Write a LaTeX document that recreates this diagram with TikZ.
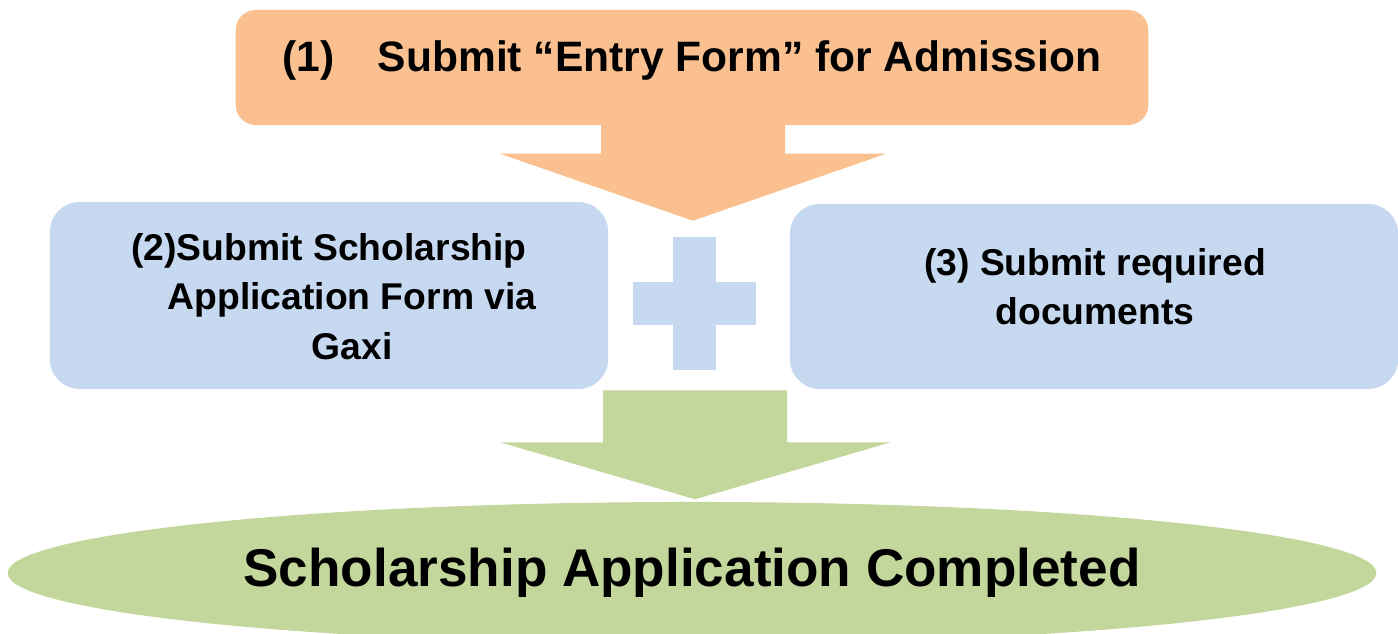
\documentclass[tikz,border=0pt]{standalone}
\usepackage{fontspec}
\setmainfont{Liberation Sans}
\usepackage{xcolor}
\definecolor{step-orange}{RGB}{250,192,144}
\definecolor{step-blue}{RGB}{198,217,241}
\definecolor{step-green}{RGB}{195,214,155}
\usetikzlibrary{shapes.geometric,calc}

\begin{document}
\begin{tikzpicture}[
	x=0.01cm, y=-0.01cm,
	box/.style={rectangle,inner sep=0pt,rounded corners=0.3cm},
	boxtext/.style={align=center,font=\bfseries\fontsize{10.6pt}{14.1pt}\selectfont},
	]
	\useasboundingbox (0,0) rectangle (1398,634);

	% boxes
	\node[box,fill=step-orange,rounded corners=0.2cm,
		minimum width=9.12cm,minimum height=1.15cm] (entry) at (692,67.5) {};
	\node[box,fill=step-blue,minimum width=5.58cm,minimum height=1.87cm] (form) at (329,295.5) {};
	\node[box,fill=step-blue,minimum width=6.08cm,minimum height=1.85cm] (docs) at (1094,296.5) {};
	\node[ellipse,fill=step-green,inner sep=0pt,
		minimum width=13.68cm,minimum height=1.42cm,
		font=\bfseries\fontsize{15.1pt}{18pt}\selectfont] (done) at (692,573)
		{Scholarship Application Completed};

	\node[font=\bfseries\fontsize{12.1pt}{14pt}\selectfont,anchor=base] (entrytext) at (692,72)
		{(1)\hspace{0.43cm}Submit “Entry Form” for Admission};
	\node[boxtext] (formtext) at (352,296.5)
		{(2)Submit Scholarship\hspace*{0.46cm}\\Application Form via\\Gaxi};
	\node[boxtext] (docstext) at (1095,286.5) {(3) Submit required\\documents};

	% block arrows
	\coordinate (tip1) at ($(entry.south)+(1,95)$);
	\coordinate (tip2) at ($(done.north)+(3,-2)$);
	\fill[step-orange] ($(entry.south)+(-91,-1)$) -- ($(entry.south)+(-91,28)$)
		-- ($(entry.south)+(-192,28)$) -- (tip1) -- ($(entry.south)+(194,28)$)
		-- ($(entry.south)+(93,28)$) -- ($(entry.south)+(93,-1)$) -- cycle;
	\fill[step-green] ($(done.north)+(-89,-111)$) -- ($(done.north)+(-89,-59)$)
		-- ($(done.north)+(-192,-59)$) -- (tip2) -- ($(done.north)+(199,-59)$)
		-- ($(done.north)+(95,-59)$) -- ($(done.north)+(95,-111)$) -- cycle;

	% plus
	\fill[step-blue] (673,237) rectangle (716,370);
	\fill[step-blue] (633,282) rectangle (756,325);
\end{tikzpicture}
\end{document}
